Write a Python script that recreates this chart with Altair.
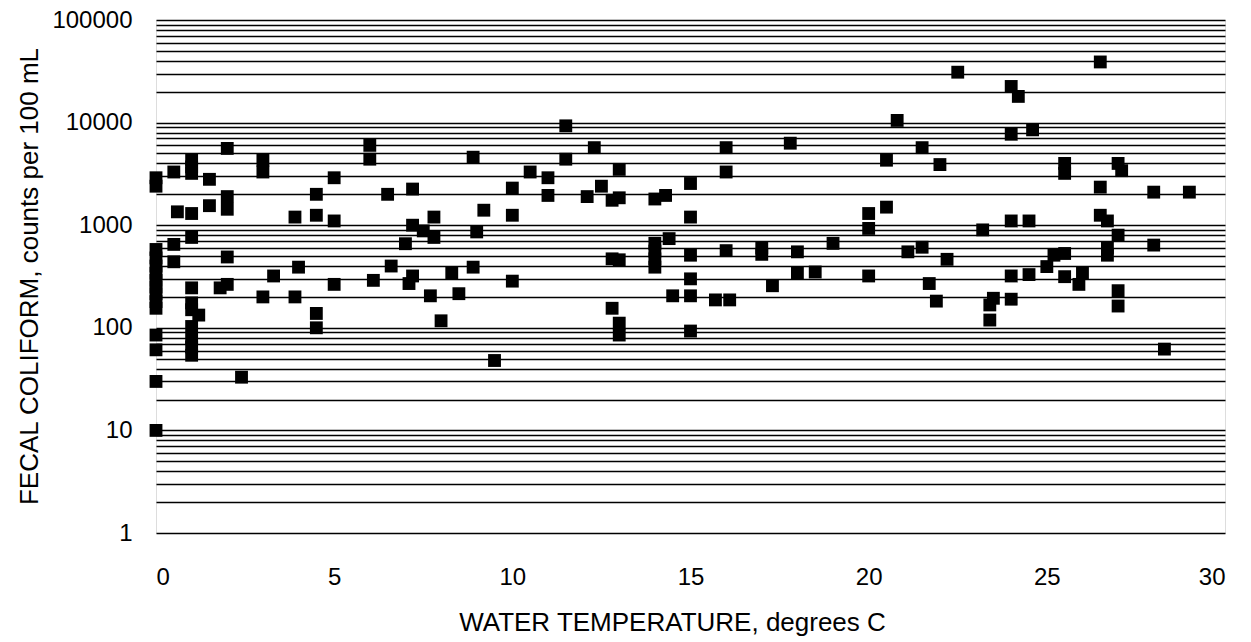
import altair as alt
import pandas as pd

# Water temperature (degrees C)
temp = [
    0, 0, 0, 0, 0, 0, 0, 0, 0, 0, 0, 0, 0, 0, 0,
    0.5, 1.0, 1.0, 1.0, 1.5, 2, 2, 2, 0.6, 1.0, 1.5, 3, 3, 3.9, 4.5, 4.5, 5, 5, 6, 6, 6.5, 7.2, 7.2,
    7.8, 8.9, 9.2, 10, 10, 10.5, 11, 11, 11.5, 11.5, 12.1, 12.3, 12.5, 12.8, 13, 13, 14, 14.3,
    15, 15, 16, 16, 17.8, 20, 20, 20.5, 20.5, 20.8, 21.5, 22,
    22.5, 26.5, 24, 24.2, 24, 24.6, 25.5, 25.5, 27, 27.1, 26.5, 28, 29, 26.5, 26.7, 24, 24.5, 23.2,
    0.5, 1.0, 0.5, 2, 1, 1.8, 2, 1, 1.2, 1, 1, 1, 1, 1, 2.4, 3, 3.3, 3.9, 4, 4.5, 4.5, 5, 6.1, 6.6, 7, 7.2, 7.1,
    7.5, 7.8, 9, 7.7, 8.3, 8.9, 8.5, 10, 8, 9.5, 12.8, 13, 12.8, 13, 13, 14, 14, 14, 14, 14.4, 14.5,
    15, 15, 15, 15, 15.7, 16.1, 16, 17, 17, 17.3, 18, 18, 18.5, 19, 20, 21.1, 21.5, 21.7, 21.9,
    22.2, 23.5, 23.4, 23.4, 24, 24, 24.5, 25, 25.2, 25.5, 25.5, 26, 25.9, 26.7, 26.7, 27, 27, 27, 28, 28.3,
]

# Fecal coliform (counts per 100 mL)
coliform = [
    10, 30, 61, 85, 155, 180, 215, 250, 290, 340, 400, 480, 580, 2400, 2900,
    3300, 4300, 3700, 3200, 2800, 5600, 1900, 1430, 1350, 1300, 1550, 4300, 3300, 1200, 2000, 1250, 2900, 1100, 6000, 4400, 2000, 2250, 1000,
    1200, 4600, 1400, 2300, 1250, 3300, 2900, 1950, 9300, 4400, 1900, 5700, 2400, 1750, 1850, 3500, 1800, 1950,
    2550, 1200, 5700, 3300, 6300, 1300, 930, 1500, 4300, 10500, 5700, 3900,
    31000, 39000, 22500, 18000, 7700, 8500, 4000, 3200, 4000, 3400, 2350, 2100, 2100, 1250, 1100, 1100, 1100, 900,
    650, 760, 440, 490, 245, 245, 265, 175, 133, 150, 103, 79, 65, 54, 33, 200, 320, 200, 390, 138, 100, 265, 290, 400, 660, 320, 270,
    880, 760, 860, 205, 345, 390, 215, 285, 117, 48, 470, 460, 155, 111, 85, 665, 560, 470, 390, 740, 205,
    510, 300, 205, 93, 187, 187, 565, 600, 520, 257, 550, 340, 350, 665, 320, 550, 610, 270, 182,
    465, 194, 167, 119, 320, 190, 330, 395, 510, 530, 315, 340, 265, 600, 510, 800, 230, 163, 640, 62,
]

x_ticks = [0, 5, 10, 15, 20, 25, 30]
y_labels = [1, 10, 100, 1000, 10000, 100000]
y_grid = [m * d for d in [1, 10, 100, 1000, 10000] for m in range(1, 10)] + [100000]

df = pd.DataFrame({"temp": temp, "coliform": coliform})

FONT = "Liberation Sans"

label_expr = " || ".join(f"datum.value == {v}" for v in y_labels)

chart = alt.Chart(df).mark_square(size=165, color="black", opacity=1, clip=False).encode(
    x=alt.X(
        "temp:Q",
        scale=alt.Scale(domain=[0, 30], nice=False, zero=False),
        axis=alt.Axis(
            values=x_ticks,
            grid=False,
            ticks=False,
            domain=False,
            labelPadding=32,
            labelFontSize=24,
            labelFont=FONT,
            labelColor="black",
            title="WATER TEMPERATURE, degrees C",
            titleFont=FONT,
            titleFontSize=26,
            titleFontWeight="normal",
            titleColor="black",
            titleX=516,
            titleY=89,
            titleBaseline="middle",
        ),
    ),
    y=alt.Y(
        "coliform:Q",
        scale=alt.Scale(type="log", domain=[1, 100000], nice=False),
        axis=alt.Axis(
            values=y_grid,
            format="d",
            labelExpr=f"({label_expr}) ? datum.label : ''",
            labelOverlap=False,
            grid=True,
            gridColor="black",
            gridWidth=1.6,
            gridOpacity=1,
            ticks=False,
            domain=False,
            labelPadding=24,
            labelFontSize=24,
            labelFont=FONT,
            labelColor="black",
            title="FECAL COLIFORM, counts per 100 mL",
            titleFont=FONT,
            titleFontSize=26,
            titleFontWeight="normal",
            titleColor="black",
            titleX=-127,
            titleY=256,
            titleAngle=270,
            titleAlign="center",
            titleBaseline="middle",
        ),
    ),
).properties(
    width=1069,
    height=513,
    padding={"left": 156, "top": 20, "right": 26, "bottom": 109},
    autosize="none",
).configure_view(
    stroke="black",
    strokeWidth=2,
).configure(background="white")

chart.save("out.html", embed_options={"renderer": "svg", "actions": False})
